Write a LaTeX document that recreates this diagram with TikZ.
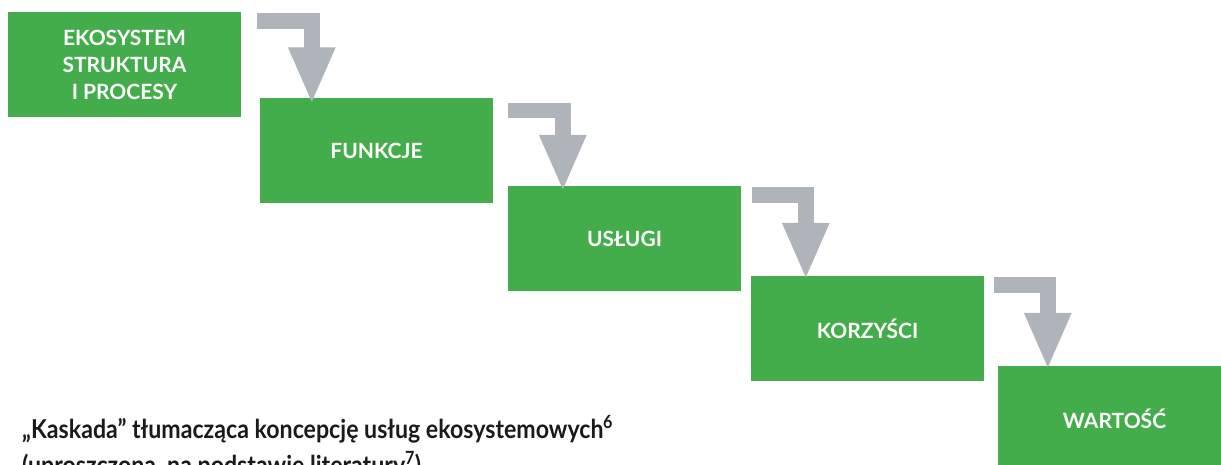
\documentclass[tikz,border=0pt]{standalone}
\usepackage{fontspec}
\setmainfont{Lato}
\newfontfamily\capfont[FakeStretch=0.89]{Lato}
\usetikzlibrary{calc,arrows.meta}
\definecolor{kaskgreen}{HTML}{44AD4B}
\definecolor{kaskgray}{HTML}{AEB4B9}
\definecolor{kasktext}{HTML}{1A1A1A}
\tikzset{
  stage/.style={fill=kaskgreen, text=white, minimum width=233pt, minimum height=105pt,
    inner sep=0pt, align=center, font=\fontsize{21}{27}\selectfont\bfseries},
  drop/.style={draw=kaskgray, line width=15.5pt, line join=miter,
    -{Triangle[width=43pt,length=57pt]}},
  caption/.style={anchor=base west, inner sep=0pt, text=kasktext,
    font=\capfont\fontsize{26}{36}\selectfont\bfseries}
}
\begin{document}
\begin{tikzpicture}[x=1pt,y=-1pt]
\useasboundingbox (0,0) rectangle (1221,465);
\clip (0,0) rectangle (1221,465);
\node[stage] (eko) at (124.5,64.5) {EKOSYSTEM\\STRUKTURA\\I PROCESY};
\node[stage] (funk) at (376.5,151) {FUNKCJE};
\node[stage] (usl) at (624.5,238.5) {USŁUGI};
\node[stage] (korz) at (867.5,328.5) {KORZYŚCI};
\node[stage] (wart) at (1114.5,418.5) {WARTOŚĆ};

\path[drop] ($(eko.north east)+(16,9)$) -| ($(funk.north west)+(52,6)$);
\path[drop] ($(funk.north east)+(15,12)$) -| ($(usl.north west)+(55,6)$);
\path[drop] ($(usl.north east)+(11,9)$) -| ($(korz.north west)+(55,4)$);
\path[drop] ($(korz.north east)+(10,9)$) -| ($(wart.north west)+(50,4)$);

\node[caption] (cap1) at (22,438) {„Kaskada” tłumacząca koncepcję usług ekosystemowych\textsuperscript{6}};
\node[caption] (cap2) at (22,474) {(uproszczona, na podstawie literatury\textsuperscript{7})};
\end{tikzpicture}
\end{document}
